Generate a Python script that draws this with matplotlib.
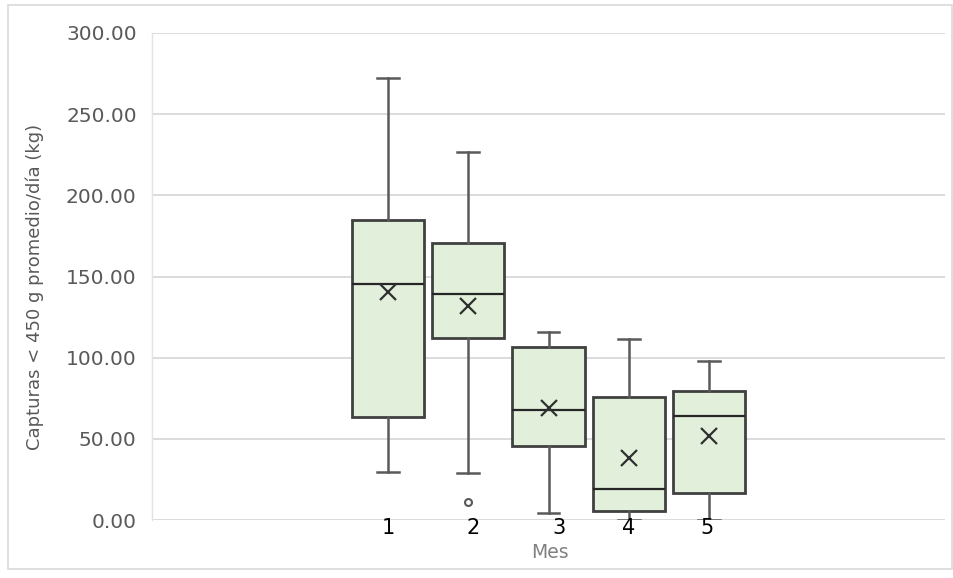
import matplotlib
matplotlib.use("Agg")
import matplotlib.pyplot as plt
from matplotlib.patches import Rectangle
import matplotlib.transforms as mtransforms

# ---- data ----
months = ["1", "2", "3", "4", "5"]
whisker_low = [29.6, 29.0, 4.3, 0.0, 0.0]
q1 = [63.5, 112.0, 45.6, 5.5, 16.6]
median = [145.4, 139.2, 67.8, 19.1, 64.0]
q3 = [185.0, 170.7, 106.6, 75.8, 79.5]
whisker_high = [272.0, 226.7, 116.0, 111.5, 98.0]
mean = [140.5, 131.9, 69.0, 38.2, 51.8]
outliers = [[], [11.0], [], [], []]
yticks = [0, 50, 100, 150, 200, 250, 300]
label_offsets = [0.0, 0.06, 0.125, 0.0, -0.025]

fig = plt.figure(figsize=(9.54, 5.78), dpi=100)
fig.patch.set_facecolor("white")
ax = fig.add_axes([152/954, 1-520/578, 793/954, 487/578])

positions = list(range(1, len(months)+1))
stats = []
for i in range(len(months)):
    stats.append(dict(med=median[i], q1=q1[i], q3=q3[i], whislo=whisker_low[i],
                      whishi=whisker_high[i], mean=mean[i], fliers=outliers[i], label=months[i]))

ax.bxp(stats, positions=positions, widths=0.9, capwidths=0.27, patch_artist=True,
       showmeans=True, showfliers=True,
       boxprops=dict(facecolor="#E2EFDA", edgecolor="#404040", linewidth=2.0),
       whiskerprops=dict(color="#5a5a5a", linewidth=1.8),
       capprops=dict(color="#5a5a5a", linewidth=1.8),
       medianprops=dict(color="#262626", linewidth=1.6),
       meanprops=dict(marker="x", markersize=12, markeredgecolor="#303030",
                      markeredgewidth=1.6, linestyle="none"),
       flierprops=dict(marker="o", markersize=5, markerfacecolor="white",
                       markeredgecolor="#595959", markeredgewidth=1.5),
       zorder=3)

ax.set_xlim(-1.94, 7.94)
ax.set_ylim(0, 300)
ax.set_yticks(yticks)
ax.set_yticklabels([f"{v:.2f}" for v in yticks])
ax.set_xticks([])
ax.tick_params(axis="y", length=0, pad=11, labelsize=14.5, labelcolor="#595959")
ax.grid(axis="y", color="#D9D9D9", linewidth=1.3, zorder=0)
ax.set_axisbelow(True)
for s in ["top", "right", "bottom"]:
    ax.spines[s].set_visible(False)
ax.spines["left"].set_color("#E3E3E3")
ax.spines["left"].set_linewidth(1.0)

ax.set_ylabel("Capturas < 450 g promedio/día (kg)", fontsize=13, color="#595959")
ax.yaxis.set_label_coords((44-152)/793, (520-287)/487)

trans = mtransforms.blended_transform_factory(ax.transData, ax.transAxes)
for p, lab, off in zip(positions, months, label_offsets):
    ax.text(p + off, -0.0164, lab, transform=trans, ha="center", va="center",
            fontsize=15, color="black")

fig.text(550/954, 1-553/578, "Mes", ha="center", va="center", fontsize=13.5, color="#808080")

fig.patches.append(Rectangle((8/954, 1-569/578), 944/954, 564/578, transform=fig.transFigure,
                             fill=False, edgecolor="#D9D9D9", linewidth=1.2))

fig.savefig("out.png", dpi=100)
